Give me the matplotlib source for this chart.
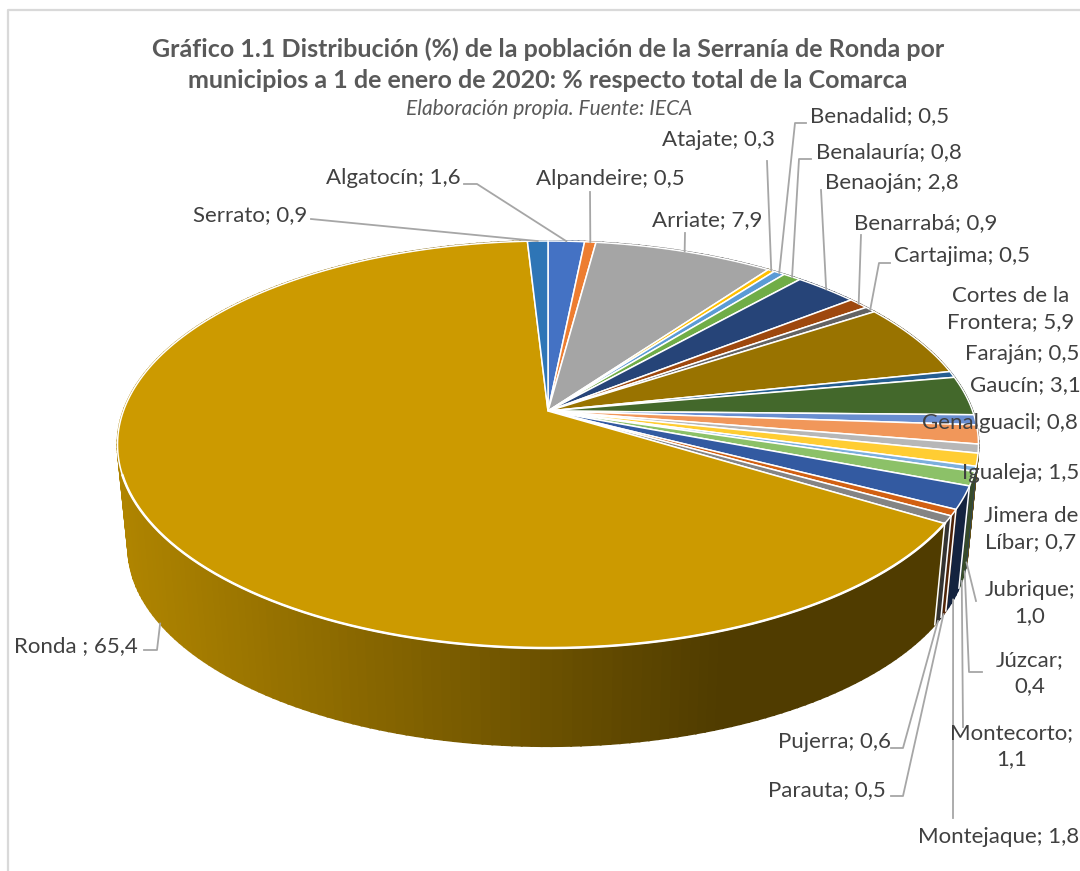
import numpy as np
import matplotlib
matplotlib.use('Agg')
import matplotlib.pyplot as plt
from matplotlib.colors import to_rgb

plt.rcParams['font.family'] = ['Lato', 'DejaVu Sans']

# Data (% of the comarca)
municipios = ['Algatocín', 'Alpandeire', 'Arriate', 'Atajate', 'Benadalid', 'Benalauría',
              'Benaoján', 'Benarrabá', 'Cartajima', 'Cortes de la\nFrontera', 'Faraján', 'Gaucín',
              'Genalguacil', 'Igualeja', 'Jimera de\nLíbar', 'Jubrique;\n', 'Júzcar;\n',
              'Montecorto;\n', 'Montejaque', 'Parauta', 'Pujerra', 'Ronda ', 'Serrato']
valores = [1.6, 0.5, 7.9, 0.3, 0.5, 0.8, 2.8, 0.9, 0.5, 5.9, 0.5, 3.1,
           0.8, 1.5, 0.7, 1.0, 0.4, 1.1, 1.8, 0.5, 0.6, 65.4, 0.9]
colores = ['#4472C4', '#ED7D31', '#A5A5A5', '#FFC000', '#5B9BD5', '#70AD47',
           '#264478', '#9E480E', '#636363', '#997300', '#255E91', '#43682B',
           '#698ED0', '#F1975A', '#B7B7B7', '#FFCD33', '#7CAFDD', '#8CC168',
           '#335AA1', '#D26012', '#848484', '#CC9A00', '#2E75B6']

# label centre x, centre y
pos_etiquetas = [(393, 178), (610, 179), (707, 220), (718, 140), (880, 116), (889, 152),
                 (892, 183), (926, 223), (962, 256), (1011, 309), (1022, 354), (1025, 385),
                 (1000, 423), (1021, 473), (1031, 529), (1030, 603), (1030, 673),
                 (1012, 746), (999, 837), (827, 790), (834, 742), (76, 646), (250, 215)]
# start of each leader line; the elbow is optional (None = straight)
guias = {0: ((464, 184), (477, 184), 'top'), 1: ((590, 192), None, 'top'), 2: ((685, 233), None, 'top'),
         3: ((767, 161), None, 'top'), 4: ((806, 123), (795, 123), 'top'), 5: ((811, 159), (799, 159), 'top'),
         6: ((821, 190), None, 'top'), 7: ((861, 235), None, 'top'), 8: ((890, 263), (879, 263), 'top'),
         15: ((976, 601), None, 'bot'), 16: ((982, 672), (969, 672), 'bot'), 17: ((963, 727), None, 'bot'),
         18: ((953, 818), None, 'bot'), 19: ((891, 796), (903, 796), 'bot'), 20: ((891, 748), (903, 748), 'bot'),
         21: ((144, 650), (157, 650), 'bot'), 22: ((311, 219), None, 'top')}

# perspective of the pie, in pixels
cx, cy = 548, 411
A, B, k = 424.6, 198.0, 0.1647
s, off = 0.975, 104


def proyecta(ang, abajo=False):
    X, Y = np.sin(ang), -np.cos(ang)
    w = 1 - k * Y
    x, y = A * X / w, B * Y / w
    if abajo:
        return cx + s * x, cy + s * y + off
    return cx + x, cy + y


def sombra(x):
    # side wall gets darker from left to right
    return np.interp(x, [120, 720], [0.86, 0.39])


fig = plt.figure(figsize=(10.8, 8.71), dpi=100)
ax = fig.add_axes([0, 0, 1, 1])
ax.set_xlim(0, 1080)
ax.set_ylim(871, 0)
ax.axis('off')

# chart frame
ax.plot([8, 8, 1080], [871, 10, 10], color='#D9D9D9', lw=1.6, zorder=1)

bordes = 2 * np.pi * np.concatenate([[0], np.cumsum(valores)]) / np.sum(valores)

# side walls, back to front
tiras = []
for i, c in enumerate(colores):
    n = max(2, int((bordes[i + 1] - bordes[i]) / 0.02) + 1)
    angs = np.linspace(bordes[i], bordes[i + 1], n + 1)
    for a0, a1 in zip(angs[:-1], angs[1:]):
        tiras.append((-np.cos((a0 + a1) / 2), a0, a1, c))
tiras.sort(key=lambda t: t[0])
for z, (yy, a0, a1, c) in enumerate(tiras):
    t0, t1 = proyecta(a0), proyecta(a1)
    b0, b1 = proyecta(a0, True), proyecta(a1, True)
    col = np.array(to_rgb(c)) * sombra((t0[0] + t1[0]) / 2)
    ax.fill([t0[0], t1[0], b1[0], b0[0]], [t0[1], t1[1], b1[1], b0[1]],
            facecolor=col, edgecolor=col, lw=1.4, zorder=2)

# white lines between the visible walls
for a in bordes:
    if -np.cos(a) > 0.3 and np.sin(a) > 0:
        t0, b0 = proyecta(a), proyecta(a, True)
        ax.plot([t0[0], b0[0]], [t0[1], b0[1]], color='white', lw=1.1, zorder=3)

# top face
for i, c in enumerate(colores):
    n = max(2, int((bordes[i + 1] - bordes[i]) / 0.01) + 1)
    xs, ys = proyecta(np.linspace(bordes[i], bordes[i + 1], n + 1))
    ax.fill(np.r_[cx, xs], np.r_[cy, ys], facecolor=c, edgecolor='white', lw=1.1,
            joinstyle='round', zorder=4)

# white rim where the top meets the wall
arco = np.linspace(bordes[21], bordes[22], 300)
xr, yr = proyecta(arco)
vis = -np.cos(arco) > 0.3
ax.plot(xr[vis], yr[vis], color='white', lw=1.8, zorder=4.5)

# leader lines
for i, (ini, codo, sitio) in guias.items():
    med = (bordes[i] + bordes[i + 1]) / 2
    fin = proyecta(med, sitio == 'bot')
    pts = [ini] + ([codo] if codo else []) + [fin]
    ax.plot([p[0] for p in pts], [p[1] for p in pts], color='#A6A6A6', lw=1.3, zorder=5)

# labels
for i, nombre in enumerate(municipios):
    v = f'{valores[i]:.1f}'.replace('.', ',')
    if nombre.endswith(';\n'):
        txt = nombre + v
    else:
        txt = f'{nombre}; {v}'
    ax.text(pos_etiquetas[i][0], pos_etiquetas[i][1], txt, ha='center', va='center', fontsize=16,
            color='#404040', linespacing=1.35, zorder=6)

ax.text(548, 49, 'Gráfico 1.1 Distribución (%) de la población de la Serranía de Ronda por',
        ha='center', va='center', fontsize=18, fontweight='bold', color='#595959', zorder=6)
ax.text(548, 80, 'municipios a 1 de enero de 2020: % respecto total de la Comarca',
        ha='center', va='center', fontsize=18, fontweight='bold', color='#595959', zorder=6)
ax.text(549, 109, 'Elaboración propia. Fuente: IECA', ha='center', va='center', fontsize=15,
        style='italic', color='#595959', zorder=6)

fig.savefig('out.png', dpi=100)
